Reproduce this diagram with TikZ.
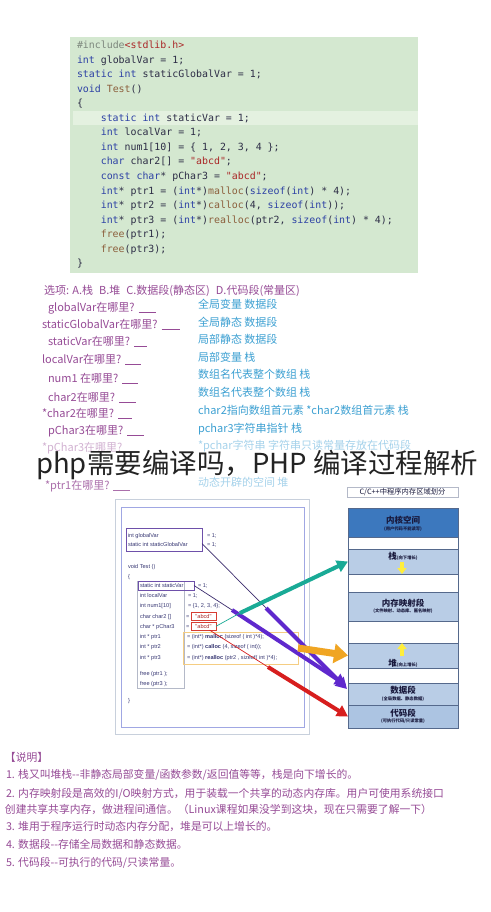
\documentclass[tikz,border=0pt]{standalone}
\usepackage{fontspec}
\usetikzlibrary{arrows.meta,calc}
\newfontfamily\cjk[Ligatures=TeXOff]{Noto Sans CJK SC}
\newfontfamily\monof[Ligatures=TeXOff]{DejaVu Sans Mono}
\newfontfamily\dsans[Ligatures=TeXOff]{Liberation Sans}
\definecolor{codebg}{RGB}{212,232,208}
\definecolor{codehl}{RGB}{228,241,224}
\definecolor{kwc}{RGB}{45,65,165}
\definecolor{idc}{RGB}{45,45,70}
\definecolor{fnc}{RGB}{140,95,60}
\definecolor{stc}{RGB}{170,40,40}
\definecolor{grc}{RGB}{125,135,125}
\definecolor{qcol}{RGB}{150,75,150}
\definecolor{qfade}{RGB}{210,178,210}
\definecolor{acol}{RGB}{60,160,210}
\definecolor{afade}{RGB}{165,210,235}
\definecolor{dcol}{RGB}{55,55,115}
\definecolor{gboxc}{RGB}{110,80,170}
\definecolor{redbox}{RGB}{215,60,50}
\definecolor{yboxc}{RGB}{245,205,130}
\definecolor{lboxc}{RGB}{180,185,200}
\definecolor{framec}{RGB}{200,208,220}
\definecolor{kblue}{RGB}{60,120,190}
\definecolor{lblue}{RGB}{185,205,230}
\definecolor{cblue}{RGB}{172,196,226}
\definecolor{segline}{RGB}{85,105,140}
\definecolor{memtxt}{RGB}{25,25,60}
\definecolor{tealc}{RGB}{25,170,150}
\definecolor{orangec}{RGB}{240,165,35}
\definecolor{purpc}{RGB}{95,40,205}
\definecolor{redc}{RGB}{215,30,30}
\definecolor{yellc}{RGB}{255,238,60}
\definecolor{thinpc}{RGB}{60,45,110}
\definecolor{titlec}{RGB}{35,35,35}
\newcommand\ckw[1]{\textcolor{kwc}{#1}}
\newcommand\cfn[1]{\textcolor{fnc}{#1}}
\newcommand\cstr[1]{\textcolor{stc}{#1}}
\newcommand\uline[1]{\hspace{4pt}\rule[-1.5pt]{#1}{0.5pt}}
\begin{document}
\begin{tikzpicture}[x=1pt,y=-1pt,
  every node/.style={inner sep=0pt, outer sep=0pt},
  code/.style={font=\monof\fontsize{9.9}{11}\selectfont, text=idc, anchor=base west},
  qtxt/.style={font=\cjk\fontsize{11}{13}\selectfont, text=qcol, anchor=base west},
  atxt/.style={font=\cjk\fontsize{11}{13}\selectfont, text=acol, anchor=base west},
  etxt/.style={font=\cjk\fontsize{10.8}{13}\selectfont, text=qcol, anchor=base west},
  dtxt/.style={font=\dsans\fontsize{5.6}{6.5}\selectfont, text=dcol, anchor=base west},
  memseg/.style={draw=segline, line width=0.8pt, minimum width=110pt, anchor=north west},
  memlbl/.style={font=\cjk\bfseries\fontsize{8.5}{9}\selectfont, text=memtxt},
  memsub/.style={font=\cjk\bfseries\fontsize{4.3}{5}\selectfont, text=memtxt},
  bigarrow/.style={line width=4pt, -{Triangle[length=11pt,width=12pt]}},
  thinline/.style={line width=0.7pt},
  yarrow/.style={draw=yellc, line width=3.5pt, -{Triangle[length=6pt,width=9pt]}}]
\useasboundingbox[fill=white] (0,0) rectangle (490,912);

% ---------- code block ----------
\fill[codebg] (70,37) rectangle (418,273);
\fill[codehl] (73,111) rectangle (418,125);
\node[code] (c0) at (77,48.5) {\textcolor{grc}{\#include}\cstr{<stdlib.h>}};
\node[code] (c1) at (77,63.1) {\ckw{int} globalVar = 1;};
\node[code] (c2) at (77,77.6) {\ckw{static} \ckw{int} staticGlobalVar = 1;};
\node[code] (c3) at (77,92.2) {\ckw{void} \cfn{Test}()};
\node[code] (c4) at (77,106.7) {\{};
\node[code] (c5) at (100.8,121.3) {\ckw{static} \ckw{int} staticVar = 1;};
\node[code] (c6) at (100.8,135.8) {\ckw{int} localVar = 1;};
\node[code] (c7) at (100.8,150.4) {\ckw{int} num1[10] = \{ 1, 2, 3, 4 \};};
\node[code] (c8) at (100.8,164.9) {\ckw{char} char2[] = \cstr{"abcd"};};
\node[code] (c9) at (100.8,179.5) {\ckw{const} \ckw{char}* pChar3 = \cstr{"abcd"};};
\node[code] (c10) at (100.8,194.0) {\ckw{int}* ptr1 = (\ckw{int}*)\cfn{malloc}(\ckw{sizeof}(\ckw{int}) * 4);};
\node[code] (c11) at (100.8,208.6) {\ckw{int}* ptr2 = (\ckw{int}*)\cfn{calloc}(4, \ckw{sizeof}(\ckw{int}));};
\node[code] (c12) at (100.8,223.1) {\ckw{int}* ptr3 = (\ckw{int}*)\cfn{realloc}(ptr2, \ckw{sizeof}(\ckw{int}) * 4);};
\node[code] (c13) at (100.8,237.7) {\cfn{free}(ptr1);};
\node[code] (c14) at (100.8,252.2) {\cfn{free}(ptr3);};
\node[code] (c15) at (77,266.8) {\}};

% ---------- questions ----------
\node[qtxt] (opt) at (44,294) {选项: A.栈\hspace{6pt}B.堆\hspace{6pt}C.数据段(静态区)\hspace{6pt}D.代码段(常量区)};
\node[qtxt] (q1) at (48,311) {globalVar在哪里?\uline{17pt}};
\node[qtxt] (q2) at (42,328) {staticGlobalVar在哪里?\uline{18pt}};
\node[qtxt] (q3) at (48,345) {staticVar在哪里?\uline{13pt}};
\node[qtxt] (q4) at (42,363) {localVar在哪里?\uline{16pt}};
\node[qtxt] (q5) at (48,382) {num1 在哪里?\uline{16pt}};
\node[qtxt] (q6) at (48,401) {char2在哪里?\uline{17pt}};
\node[qtxt] (q7) at (42,417) {*char2在哪里?\uline{14pt}};
\node[qtxt] (q8) at (48,434) {pChar3在哪里?\uline{17pt}};
\node[qtxt, text=qfade] (q9) at (42,451) {*pChar3在哪里?};
\node[qtxt, text=qcol!80!white] (q10) at (45,489) {*ptr1在哪里?\uline{17pt}};

% ---------- answers ----------
\node[atxt] (a1) at (198,308) {全局变量 数据段};
\node[atxt] (a2) at (198,326) {全局静态 数据段};
\node[atxt] (a3) at (198,343) {局部静态 数据段};
\node[atxt] (a4) at (198,361) {局部变量 栈};
\node[atxt] (a5) at (198,378) {数组名代表整个数组 栈};
\node[atxt] (a6) at (198,396) {数组名代表整个数组 栈};
\node[atxt] (a7) at (198,414) {char2指向数组首元素 *char2数组首元素 栈};
\node[atxt] (a8) at (198,432) {pchar3字符串指针 栈};
\node[atxt, text=afade] (a9) at (198,449) {*pchar字符串 字符串只读常量存放在代码段};
\node[atxt, text=afade] (a10) at (198,486) {动态开辟的空间 堆};

% ---------- middle code picture ----------
\draw[framec, line width=0.8pt] (115,499) rectangle (309,734);
\draw[framec!80!blue, line width=0.6pt] (121,507) rectangle (304,727);
\draw[lboxc, line width=0.6pt] (137,581) rectangle (184,688);
\node[draw=gboxc, line width=0.9pt, minimum width=76pt, minimum height=23pt] (gbox) at (164,539.5) {};
\node[draw=gboxc, line width=0.9pt, minimum width=56pt, minimum height=9pt] (sbox) at (166,585.5) {};
\node[draw=yboxc, line width=0.8pt, minimum width=115pt, minimum height=32pt] (ybox) at (240.5,648) {};
\node[dtxt] (d1) at (128,537) {int globalVar};
\node[dtxt] (d1r) at (207,537) {= 1;};
\node[dtxt] (d2) at (128,546) {static int staticGlobalVar};
\node[dtxt] (d2r) at (207,546) {= 1;};
\node[dtxt] (d3) at (128,568) {void Test ()};
\node[dtxt] (d4) at (128,578) {\{};
\node[dtxt] (d5) at (140,587) {static int staticVar};
\node[dtxt] (d5r) at (198,587) {= 1;};
\node[dtxt] (d6) at (140,597) {int localVar};
\node[dtxt] (d6r) at (188,597) {= 1;};
\node[dtxt] (d7) at (140,607) {int num1[10]};
\node[dtxt] (d7r) at (188,607) {= \{1, 2, 3, 4\};};
\node[dtxt] (d8) at (140,618) {char char2 []};
\node[dtxt] (d8r) at (186,618) {=};
\node[draw=redbox, line width=0.8pt, minimum width=25pt, minimum height=7.5pt, font=\dsans\fontsize{5.6}{6.5}\selectfont, text=stc] (r1) at (203.5,616.3) {"abcd"};
\node[dtxt] (d9) at (140,628) {char * pChar3};
\node[dtxt] (d9r) at (186,628) {=};
\node[draw=redbox, line width=0.8pt, minimum width=25pt, minimum height=7.5pt, font=\dsans\fontsize{5.6}{6.5}\selectfont, text=stc] (r2) at (203.5,626.3) {"abcd"};
\node[dtxt] (d10) at (140,638) {int * ptr1};
\node[dtxt] (d10r) at (187,638) {= (int*) \textbf{malloc} (sizeof ( int )*4);};
\node[dtxt] (d11) at (140,648) {int * ptr2};
\node[dtxt] (d11r) at (187,648) {= (int*) \textbf{calloc} (4, sizeof ( int));};
\node[dtxt] (d12) at (140,659) {int * ptr3};
\node[dtxt] (d12r) at (187,659) {= (int*) \textbf{realloc} (ptr2 , sizeof( int )*4);};
\node[dtxt] (d13) at (140,675) {free (ptr1 );};
\node[dtxt] (d14) at (140,685) {free (ptr3 );};
\node[dtxt] (d15) at (128,702) {\}};

% ---------- memory layout ----------
\node[draw=lboxc, line width=0.5pt, minimum width=111pt, minimum height=10pt, font=\cjk\fontsize{7.3}{8}\selectfont, text=memtxt] (mtitle) at (402.5,492) {C/C++中程序内存区域划分};
\node[memseg, fill=kblue, minimum height=29pt] (kern) at (348,508) {};
\node[memseg, fill=white, minimum height=12pt] (w1) at (348,537) {};
\node[memseg, fill=lblue, minimum height=25pt] (stack) at (348,549) {};
\node[memseg, fill=white, minimum height=18pt] (w2) at (348,574) {};
\node[memseg, fill=lblue, minimum height=29pt] (mmap) at (348,592) {};
\node[memseg, fill=white, minimum height=22pt] (w3) at (348,621) {};
\node[memseg, fill=lblue, minimum height=25pt] (heap) at (348,643) {};
\node[memseg, fill=white, minimum height=15pt] (w4) at (348,668) {};
\node[memseg, fill=lblue, minimum height=22pt] (data) at (348,683) {};
\node[memseg, fill=cblue, minimum height=23pt] (code) at (348,705) {};
\node[memlbl] (lk) at (403,520) {内核空间};
\node[memsub] (lks) at (403,529) {(用户代码不能读写)};
\node[memlbl] (ls) at (403,556) {栈\fontsize{4.3}{5}\selectfont(向下增长)};
\node[memlbl] (lm) at (403,603) {内存映射段};
\node[memsub] (lms) at (403,611) {(文件映射、动态库、匿名映射)};
\node[memlbl] (lh) at (403,663) {堆\fontsize{4.3}{5}\selectfont(向上增长)};
\node[memlbl] (ld) at (403,690) {数据段};
\node[memsub] (lds) at (403,699) {(全局数据、静态数据)};
\node[memlbl] (lc) at (403,713) {代码段};
\node[memsub] (lcs) at (403,721) {(可执行代码/只读常量)};
\coordinate (ys1) at (402,562);
\coordinate (ys2) at (402,574);
\coordinate (yh1) at (402,656);
\coordinate (yh2) at (402,643);
\draw[yarrow] (ys1) -- (ys2);
\draw[yarrow] (yh1) -- (yh2);

% ---------- connectors ----------
\coordinate (gB) at (266,608);
\coordinate (sB) at (232,610);
\coordinate (tB) at (240,613);
\coordinate (rB) at (268,667);
\draw[thinline, thinpc] ($(gbox.east)+(0,4)$) -- (gB);
\draw[bigarrow, purpc] (gB) -- ($(data.west)+(-1,-5)$);
\draw[thinline, thinpc] (sbox.east) -- (sB);
\draw[bigarrow, purpc] (sB) -- ($(data.west)+(-2,-9)$);
\draw[thinline, tealc] (r2.east) -- (tB);
\draw[bigarrow, tealc] (tB) -- (stack.west);
\draw[thinline, redc] ($(r2.south)+(6,0)$) -- (rB);
\draw[bigarrow, redc] (rB) -- (code.west);
\draw[orangec, line width=7pt, -{Triangle[length=14pt,width=19pt]}] (ybox.east) -- (heap.west);

% ---------- explanation ----------
\node[etxt] (e0) at (5,761) {【说明】};
\node[etxt] (e1) at (6,778) {1. 栈又叫堆栈--非静态局部变量/函数参数/返回值等等，栈是向下增长的。};
\node[etxt] (e2) at (6,797) {2. 内存映射段是高效的I/O映射方式，用于装载一个共享的动态内存库。用户可使用系统接口};
\node[etxt] (e3) at (5,813) {创建共享共享内存，做进程间通信。（Linux课程如果没学到这块，现在只需要了解一下）};
\node[etxt] (e4) at (6,830) {3. 堆用于程序运行时动态内存分配，堆是可以上增长的。};
\node[etxt] (e5) at (6,848) {4. 数据段--存储全局数据和静态数据。};
\node[etxt] (e6) at (6,866) {5. 代码段--可执行的代码/只读常量。};

% ---------- overlay title ----------
\node[font=\cjk\fontsize{27.5}{30}\selectfont, text=titlec, anchor=east] (title) at (478,465) {php需要编译吗，PHP 编译过程解析};
\end{tikzpicture}
\end{document}
